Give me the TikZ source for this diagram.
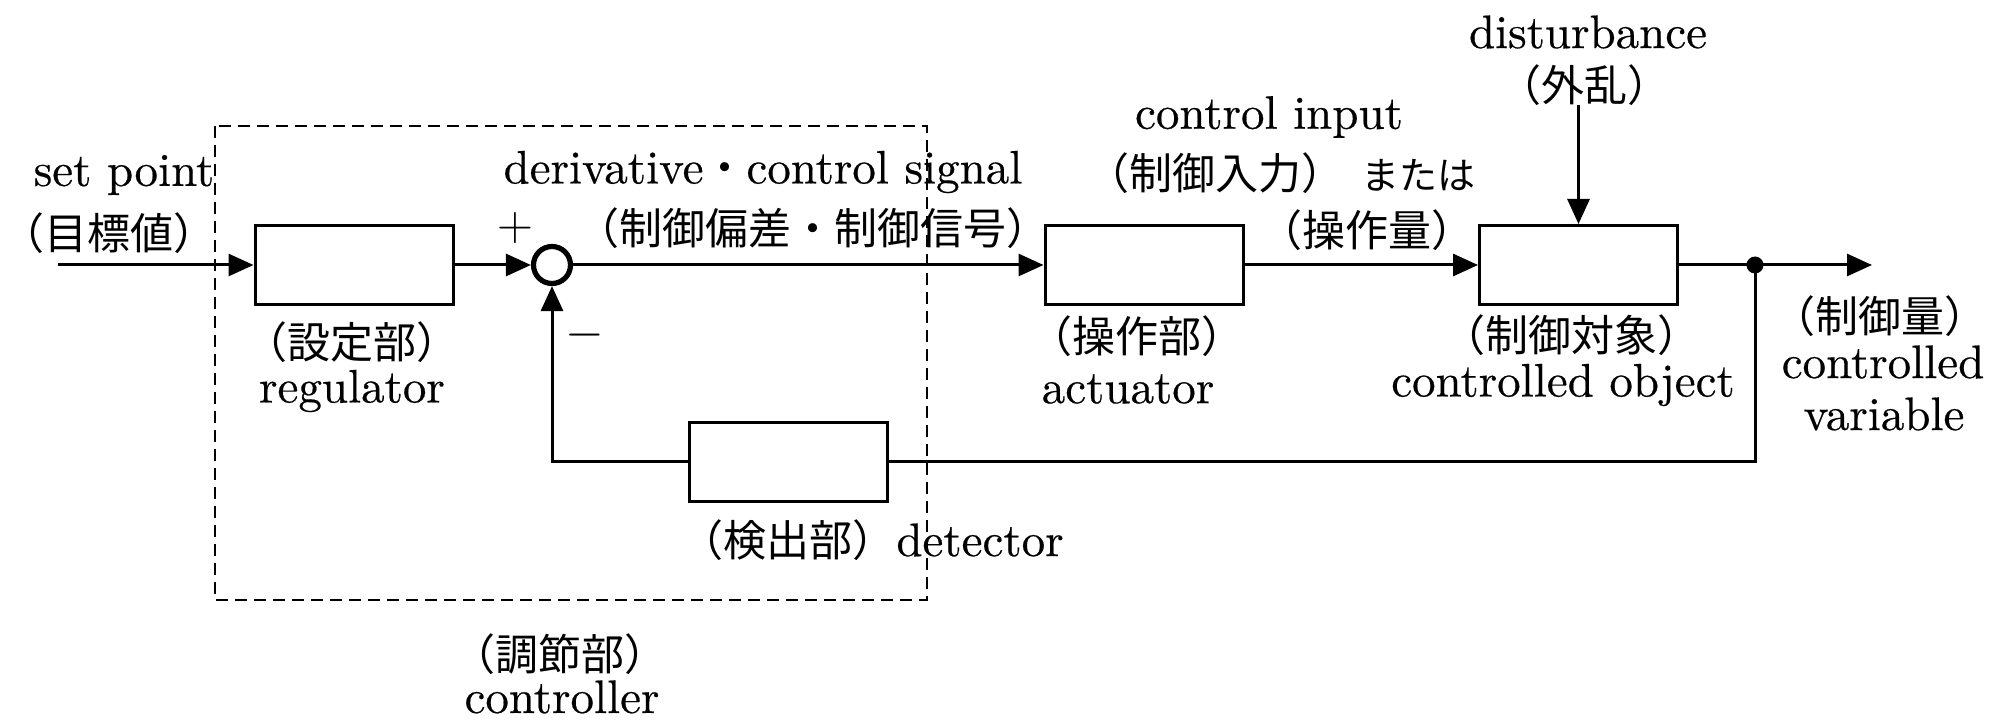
\documentclass[tikz,border=0pt]{standalone}
\usepackage{fontspec}
\newfontfamily\jpfont{Noto Sans CJK JP}
\newfontfamily\latfam{lmroman10-regular.otf}[FakeBold=0.4]
\usetikzlibrary{arrows.meta}
\newcommand{\latf}{\latfam\fontsize{23.5}{28}\selectfont}
\newcommand{\jpf}{\jpfont\fontsize{21.5}{26}\selectfont}
\newcommand{\jps}{\jpfont\fontsize{19}{23}\selectfont}
\newcommand{\jtxt}[1]{\kern-0.4em#1\kern-0.4em}
\begin{document}
\begin{tikzpicture}[x=0.5pt,y=-0.5pt,
  blk/.style={draw,line width=1.5pt,minimum width=99pt,minimum height=39.5pt,inner sep=0pt},
  sumc/.style={draw,circle,line width=2.6pt,minimum size=18.5pt,inner sep=0pt},
  jdot/.style={circle,fill,minimum size=8.5pt,inner sep=0pt},
  wire/.style={line width=1.5pt},
  arr/.style={wire,-{Triangle[length=12.5pt,width=11pt]}},
  dashbox/.style={line width=1pt,dash pattern=on 6pt off 3.5pt},
  lab/.style={inner sep=0pt,font=\latf},
  jlab/.style={inner sep=0pt,font=\jpf}]
\useasboundingbox (0,0) rectangle (2003,721);

% controller dashed frame
\draw[dashbox] (215,126) rectangle (927,600);

% blocks
\node[blk] (reg) at (354,265) {};
\node[blk] (act) at (1144,265) {};
\node[blk] (obj) at (1578.5,265) {};
\node[blk] (det) at (788,462) {};
\node[sumc] (sum) at (552,265) {};
\node[jdot] (dot) at (1755,265) {};
\coordinate (in) at (58,265);
\coordinate (out) at (1872,265);
\coordinate (dsrc) at (1578.5,105);

% connectors
\draw[arr] (in) -- (reg.west);
\draw[arr] (reg.east) -- (sum.west);
\draw[arr] (sum.east) -- (act.west);
\draw[arr] (act.east) -- (obj.west);
\draw[wire] (obj.east) -- (dot.center);
\draw[arr] (dot.center) -- (out);
\draw[wire] (dot.center) |- (det.east);
\draw[arr] (det.west) -| (sum.south);
\draw[arr] (dsrc) -- (obj.north);

% labels
\node[lab] (sp) at (124,175) {set point};
\node[jlab] (tv) at (109,233) {\jtxt{（目標値）}};
\node[lab] (plus) at (515,228) {$+$};
\node[lab] (minus) at (585,335) {$-$};
\node[lab] (deriv) at (763,172) {derivative{\jpf ・}control signal};
\node[jlab] (devjp) at (813,228) {\jtxt{（制御偏差・制御信号）}};
\node[lab] (ci) at (1269,117) {control input};
\node[jlab] (cijp) at (1215,173) {\jtxt{（制御入力）}};
\node[inner sep=0pt,font=\jps] (mataha) at (1418,175) {または};
\node[jlab] (sousa) at (1367,230) {\jtxt{（操作量）}};
\node[lab] (dist) at (1588,32) {disturbance};
\node[jlab] (gai) at (1584,85) {\jtxt{（外乱）}};
\node[jlab] (settei) at (352,342) {\jtxt{（設定部）}};
\node[lab] (regl) at (352,391) {regulator};
\node[jlab] (sosabu) at (1137,336) {\jtxt{（操作部）}};
\node[lab] (actl) at (1128,389) {actuator};
\node[jlab] (taisho) at (1571,335) {\jtxt{（制御対象）}};
\node[lab] (cobj) at (1563,385) {controlled object};
\node[jlab] (seiryo) at (1880,316) {\jtxt{（制御量）}};
\node[lab] (cv1) at (1883,362) {controlled};
\node[lab] (cv2) at (1884,414) {variable};
\node[jlab] (kenshutsu) at (788,540) {\jtxt{（検出部）}};
\node[lab] (detl) at (980,540) {detector};
\node[jlab] (chosetsu) at (560,654) {\jtxt{（調節部）}};
\node[lab,anchor=base] (ctrl) at (562,713) {controller};
\end{tikzpicture}
\end{document}
